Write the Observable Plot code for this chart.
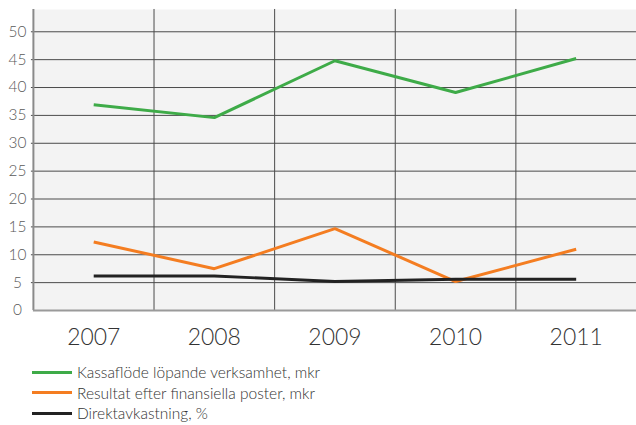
<!DOCTYPE html>
<html>
<head>
<meta charset="utf-8">
<script src="https://cdn.jsdelivr.net/npm/d3@7"></script>
<script src="https://cdn.jsdelivr.net/npm/@observablehq/plot@0.6"></script>
<style>
  html, body { margin: 0; padding: 0; background: #fff; overflow: hidden; }
  body { width: 636px; height: 425px; font-family: Lato, "Open Sans", sans-serif; }
  #chart svg { display: block; }
  .legend { margin-left: 32px; margin-top: 13px; font-size: 15.5px; font-weight: 300; color: #333; }
  .legend .item { display: flex; align-items: center; height: 20.5px; }
  .legend .swatch { width: 40px; height: 3px; margin-right: 5px; }
</style>
</head>
<body>
<div id="chart"></div>
<div class="legend" id="legend"></div>
<script>
// Fem år, tre serier
const years = [2007, 2008, 2009, 2010, 2011];
const kassaflode = [36.9, 34.6, 44.8, 39.1, 45.2];
const resultat = [12.3, 7.5, 14.7, 5.2, 11.0];
const direktavkastning = [6.2, 6.2, 5.2, 5.6, 5.6];
const yTicks = [0, 5, 10, 15, 20, 25, 30, 35, 40, 45, 50];

const series = [
  {name: "Kassaflöde löpande verksamhet, mkr", values: kassaflode, color: "#3eab48"},
  {name: "Resultat efter finansiella poster, mkr", values: resultat, color: "#f47d21"},
  {name: "Direktavkastning, %", values: direktavkastning, color: "#222222"}
];

const rows = series.flatMap(s => years.map((year, i) => ({series: s.name, year, value: s.values[i], color: s.color})));

// Columns are one year wide; the grid separates neighbouring years
const xDomain = [d3.min(years) - 0.5, d3.max(years) + 0.5];
const yearBounds = years.slice(1).map(y => y - 0.5);

const chart = Plot.plot({
  width: 638,
  height: 350,
  marginTop: 9,
  marginBottom: 39,
  marginLeft: 33,
  marginRight: 0,
  style: {fontFamily: "Lato, 'Open Sans', sans-serif", fontWeight: 300, background: "transparent"},
  x: {domain: xDomain, axis: null},
  y: {domain: [0, 54], axis: null},
  marks: [
    Plot.frame({fill: "#f3f3f3", stroke: null}),
    Plot.ruleY(yTicks.filter(d => d > 0), {stroke: "#4a4a4a", strokeWidth: 1, insetLeft: -2}),
    Plot.ruleX(yearBounds, {stroke: "#4a4a4a", strokeWidth: 1}),
    Plot.ruleX([xDomain[0]], {stroke: "#8a8a8a", strokeWidth: 2}),
    Plot.ruleY([0], {stroke: "#9a9a9a", strokeWidth: 2}),
    Plot.axisY({ticks: yTicks, label: null, tickSize: 0, tickPadding: 16, textAnchor: "middle", fontSize: 15.5, fill: "#5a5a5a", tickFormat: d => String(d)}),
    Plot.axisX({ticks: years, label: null, tickSize: 0, tickPadding: 18, fontSize: 23, fill: "#333", tickFormat: d => String(d)}),
    Plot.line(rows, {x: "year", y: "value", z: "series", stroke: "color", strokeWidth: 3, strokeLinejoin: "miter", strokeLinecap: "butt"})
  ]
});
document.getElementById("chart").append(chart);

// Legend below the plot
const legend = document.getElementById("legend");
for (const s of series) {
  const item = document.createElement("div");
  item.className = "item";
  const sw = document.createElement("span");
  sw.className = "swatch";
  sw.style.background = s.color;
  const label = document.createElement("span");
  label.textContent = s.name;
  item.append(sw, label);
  legend.append(item);
}
</script>
</body>
</html>
